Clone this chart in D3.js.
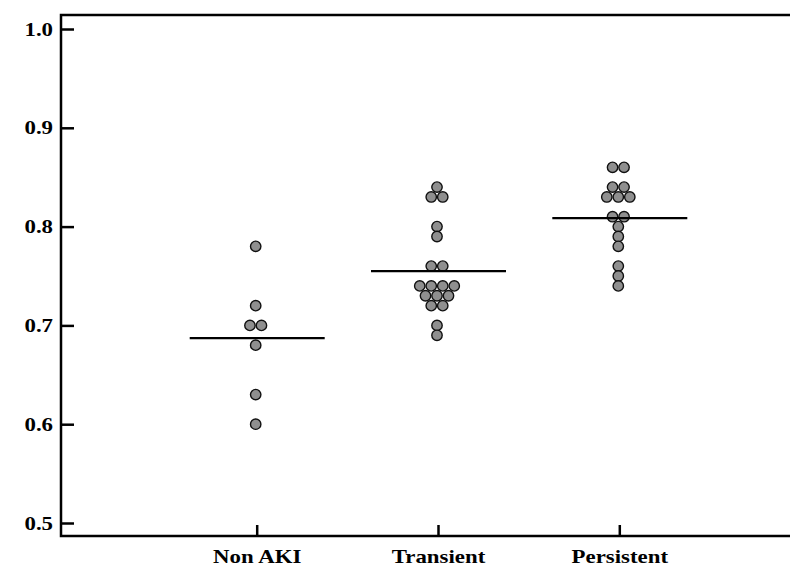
<!DOCTYPE html>
<html>
<head>
<meta charset="utf-8">
<script src="https://cdn.jsdelivr.net/npm/d3@7"></script>
<style>
  body { margin: 0; background: #fff; }
  text { font-family: "Liberation Serif", "Times New Roman", serif; font-weight: bold; }
</style>
</head>
<body>
<div id="chart"></div>
<script>
// groups along x
var categories = ["Non AKI", "Transient", "Persistent"];

// individual values
var nonAkiValues = [0.78, 0.72, 0.70, 0.70, 0.68, 0.63, 0.60];
var transientValues = [0.84, 0.83, 0.83, 0.80, 0.79, 0.76, 0.76, 0.74, 0.74, 0.74, 0.74,
                       0.73, 0.73, 0.73, 0.72, 0.72, 0.70, 0.69];
var persistentValues = [0.86, 0.86, 0.84, 0.84, 0.83, 0.83, 0.83, 0.81, 0.81, 0.80,
                        0.79, 0.78, 0.76, 0.75, 0.74];

var yTicks = [0.5, 0.6, 0.7, 0.8, 0.9, 1.0];

var seriesValues = [nonAkiValues, transientValues, persistentValues];

var width = 791, height = 567;
var plotLeft = 61, plotRight = 790, plotTop = 15, plotBottom = 536;
var dotStep = 11.5;
var stretch = 1.27; // labels in the picture are wide

var svg = d3.select("#chart")
    .append("svg")
    .attr("width", width)
    .attr("height", height);

var x = d3.scalePoint()
    .domain(categories)
    .range([256.7, 619.3]);

var y = d3.scaleLinear()
    .domain([0.5, 1.0])
    .range([523, 29]);

// frame: left, top and bottom lines
svg.append("path")
    .attr("d", "M" + plotRight + "," + plotTop + "H" + plotLeft + "V" + plotBottom + "H" + plotRight)
    .attr("fill", "none")
    .attr("stroke", "#000")
    .attr("stroke-width", 2.5);

// y axis, ticks pointing inward
var yAxis = svg.append("g")
    .attr("transform", "translate(" + plotLeft + ",0)")
    .call(d3.axisRight(y).tickValues(yTicks).tickSize(13).tickFormat(d3.format(".1f")));
yAxis.select(".domain").remove();
yAxis.selectAll(".tick line").attr("stroke", "#000").attr("stroke-width", 2.5);
yAxis.selectAll(".tick text")
    .attr("x", -8 / stretch)
    .attr("dy", "0.34em")
    .attr("transform", "scale(" + stretch + ",1)")
    .style("text-anchor", "end")
    .style("font-size", "18px")
    .attr("fill", "#000");

// x axis, ticks pointing up
var xAxis = svg.append("g")
    .attr("transform", "translate(0," + plotBottom + ")")
    .call(d3.axisTop(x).tickSize(11));
xAxis.select(".domain").remove();
xAxis.selectAll(".tick line").attr("stroke", "#000").attr("stroke-width", 2.5);
xAxis.selectAll(".tick text")
    .attr("y", 27)
    .attr("dy", 0)
    .attr("transform", "scale(" + stretch + ",1)")
    .style("text-anchor", "middle")
    .style("font-size", "18px")
    .attr("fill", "#000");

// lay out points: equal values side by side, centred on the group
var points = [];
seriesValues.forEach(function(vals, i) {
    var groups = d3.group(vals, function(v) { return v; });
    groups.forEach(function(list, v) {
        list.forEach(function(d, k) {
            points.push({cat: categories[i], value: v, offset: (k - (list.length - 1) / 2) * dotStep});
        });
    });
});

svg.append("g").selectAll("circle")
    .data(points)
    .join("circle")
    .attr("cx", function(d) { return x(d.cat) - 1 + d.offset; })
    .attr("cy", function(d) { return y(d.value); })
    .attr("r", 5.2)
    .attr("fill", "#8f8f8f")
    .attr("stroke", "#111")
    .attr("stroke-width", 1.4);

// mean lines
svg.append("g").selectAll("line")
    .data(seriesValues.map(function(vals, i) { return {cat: categories[i], mean: d3.mean(vals)}; }))
    .join("line")
    .attr("x1", function(d) { return x(d.cat) - 67; })
    .attr("x2", function(d) { return x(d.cat) + 68; })
    .attr("y1", function(d) { return y(d.mean); })
    .attr("y2", function(d) { return y(d.mean); })
    .attr("stroke", "#000")
    .attr("stroke-width", 2.2);
</script>
</body>
</html>
